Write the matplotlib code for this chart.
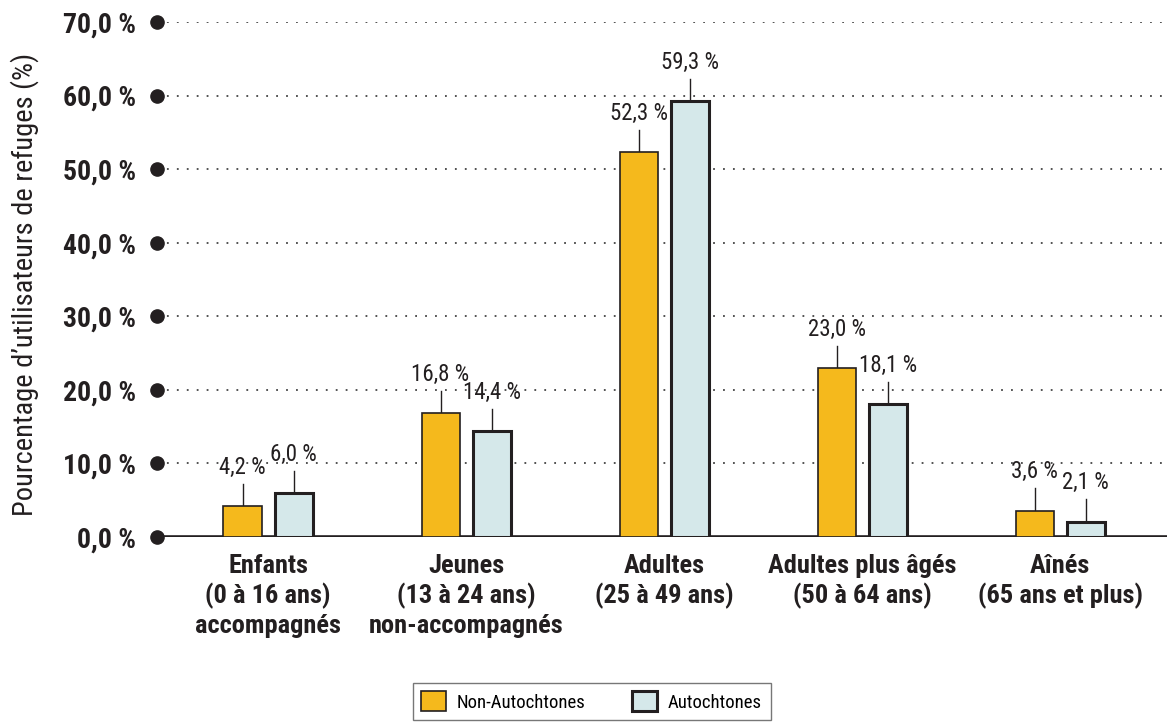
import matplotlib
matplotlib.use("Agg")
import matplotlib.pyplot as plt
from matplotlib.patches import Patch
import numpy as np

plt.rcParams['font.family'] = ['Roboto Condensed', 'DejaVu Sans']

categories = ["Enfants\n(0 à 16 ans)\naccompagnés",
              "Jeunes\n(13 à 24 ans)\nnon-accompagnés",
              "Adultes\n(25 à 49 ans)",
              "Adultes plus âgés\n(50 à 64 ans)",
              "Aînés\n(65 ans et plus)"]
non_autochtones = [4.2, 16.8, 52.3, 23.0, 3.6]
autochtones = [6.0, 14.4, 59.3, 18.1, 2.1]
series_names = ["Non-Autochtones", "Autochtones"]
yticks = [0, 10, 20, 30, 40, 50, 60, 70]

orange = "#F5B91C"
blue = "#D5E8EA"
dark = "#231F20"

fig = plt.figure(figsize=(11.67, 7.25), dpi=100)
ax = fig.add_axes([0.1345, 0.2593, 0.8655, 0.7104])

x = np.arange(len(categories))
w = 0.192
off = 0.129

ax.bar(x - off, non_autochtones, w, color=orange, edgecolor=dark, linewidth=1.2, zorder=3)
ax.bar(x + off, autochtones, w, color=blue, edgecolor=dark, linewidth=2.2, zorder=3)

# étiquettes de valeurs avec petits traits
for xs, vals in [(x - off, non_autochtones), (x + off, autochtones)]:
    for xi, v in zip(xs, vals):
        ax.plot([xi, xi], [v, v + 3.0], color=dark, lw=1, zorder=2)
        ax.text(xi, v + 3.7, f"{v:.1f} %".replace(".", ","), ha="center", va="bottom",
                fontsize=16.5, color=dark)

ax.set_xlim(-0.561, 4.54)
ax.set_ylim(0, 70)

# grille pointillée + gros points
for t in yticks:
    if t > 0:
        ax.axhline(t, color="#444444", lw=1.3, linestyle=(0, (1, 4.5)), zorder=1)
ax.axhline(0, color=dark, lw=2.6, zorder=2)
ax.plot(np.full(len(yticks), -0.561), yticks, "o", color=dark, ms=9.5, clip_on=False, zorder=4)

ax.set_yticks(yticks)
ax.set_yticklabels([f"{t:.1f} %".replace(".", ",") for t in yticks], fontsize=20,
                   fontweight="bold", color=dark)
ax.tick_params(axis="y", length=0, pad=15)
ax.set_xticks(x)
ax.set_xticklabels(categories, fontsize=19, fontweight="bold", color=dark, linespacing=1.25)
ax.tick_params(axis="x", length=0, pad=12)
for s in ax.spines.values():
    s.set_visible(False)

ax.set_ylabel("Pourcentage d\u2019utilisateurs de refuges (%)", fontsize=20.5, color=dark)
ax.yaxis.set_label_coords(-0.117, 0.49)

handles = [Patch(facecolor=orange, edgecolor=dark, linewidth=1.2),
           Patch(facecolor=blue, edgecolor=dark, linewidth=2.2)]
leg = fig.legend(handles, series_names, loc="lower center", bbox_to_anchor=(0.507, -0.006),
                 ncol=2, fontsize=13.5, frameon=True, fancybox=False, edgecolor="#555555",
                 handlelength=1.3, handleheight=1.3, handletextpad=0.6, columnspacing=2.5,
                 borderpad=0.45)
leg.get_frame().set_linewidth(1)

fig.savefig("out.png", dpi=100)
